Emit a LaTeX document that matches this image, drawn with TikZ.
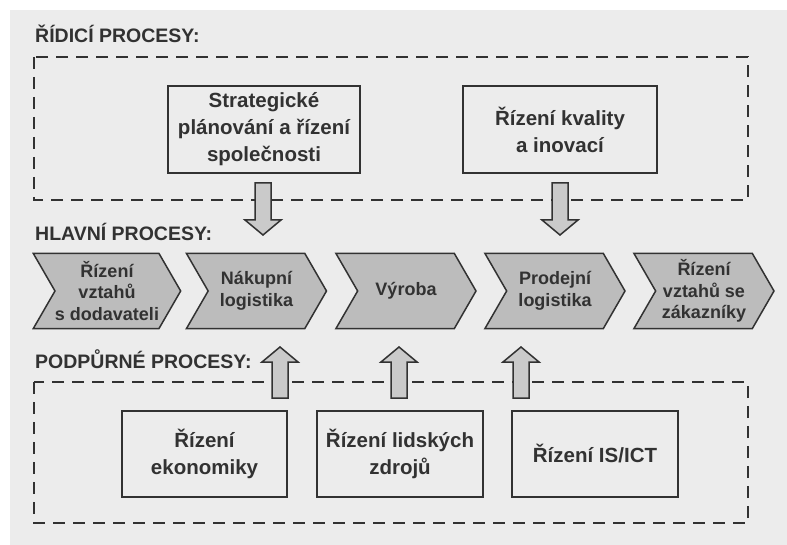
\documentclass[tikz,border=0pt]{standalone}
\usepackage{fontspec}
\setmainfont{Liberation Sans}
\usetikzlibrary{shapes.symbols,positioning,calc}

\definecolor{scan}{RGB}{236,236,236}
\definecolor{ink}{RGB}{50,50,50}
\definecolor{chev}{RGB}{188,188,188}
\definecolor{arrfill}{RGB}{202,202,202}

% hollow block arrow: x, tail y, tip y
\newcommand{\fatarrow}[3]{%
  \pgfmathsetmacro{\arrhead}{#3+15*sign(#2-#3)}%
  \draw[blockarr] (#1-8,#2) -- (#1-8,\arrhead) -- (#1-18,\arrhead) -- (#1,#3)
    -- (#1+18,\arrhead) -- (#1+8,\arrhead) -- (#1+8,#2) -- cycle;}

\begin{document}
\begin{tikzpicture}[x=1pt,y=-1pt,
  procbox/.style={draw=ink, line width=1.7pt, fill=scan, align=center, text=ink,
    font=\bfseries\fontsize{20.5}{27}\selectfont, minimum height=87pt, inner sep=0pt},
  chevron/.style={signal, signal from=west, signal to=east, signal pointer angle=120,
    draw=ink, line width=1.5pt, fill=chev, text=ink, align=center,
    font=\bfseries\fontsize{18}{21.5}\selectfont,
    minimum width=140pt, minimum height=75pt, inner sep=0pt},
  group/.style={draw=ink, line width=2.4pt, dash pattern=on 12pt off 8pt},
  title/.style={anchor=base west, text=ink, inner sep=0pt,
    font=\bfseries\fontsize{19.5}{24}\selectfont},
  blockarr/.style={draw=ink, line width=1.5pt, fill=arrfill, line join=miter}]
% paper
\fill[white] (0,0) rectangle (787,545);
\fill[scan] (10,10) rectangle (787,545);
\useasboundingbox (0,0) rectangle (787,545);
% dashed groups
\draw[group] (34,57) rectangle (748,200);
\draw[group] (34,382) rectangle (748,523);
% titles
\node[title] (t1) at (35,43) {ŘÍDICÍ PROCESY:};
\node[title] (t2) at (35,241) {HLAVNÍ PROCESY:};
\node[title] (t3) at (35,368) {PODPŮRNÉ PROCESY:};
% control processes
\node[procbox, minimum width=192pt] (strat) at (264,129.5) {Strategické\\plánování a řízení\\společnosti};
\node[procbox, minimum width=194pt] (kval) at (560,129.5) {Řízení kvality\\a inovací};
% main chain
\node[chevron] (c1) at (107,291) {Řízení\\vztahů\\s dodavateli};
\node[chevron] (c2) at (256.5,291) {Nákupní\\logistika};
\node[chevron] (c3) at (406,291) {Výroba};
\node[chevron] (c4) at (555,291) {Prodejní\\logistika};
\node[chevron] (c5) at (704,291) {Řízení\\vztahů se\\zákazníky};
% support processes
\node[procbox, minimum width=165pt, minimum height=86pt] (eko) at (204.5,454) {Řízení\\ekonomiky};
\node[procbox, minimum width=166pt, minimum height=86pt] (hr) at (400,454) {Řízení lidských\\zdrojů};
\node[procbox, minimum width=166pt, minimum height=86pt] (ict) at (595,454) {Řízení IS/ICT};
% arrows
\fatarrow{263}{183}{235}
\fatarrow{560}{183}{235}
\fatarrow{280}{398}{347}
\fatarrow{399}{398}{347}
\fatarrow{521}{398}{347}
\end{tikzpicture}
\end{document}
